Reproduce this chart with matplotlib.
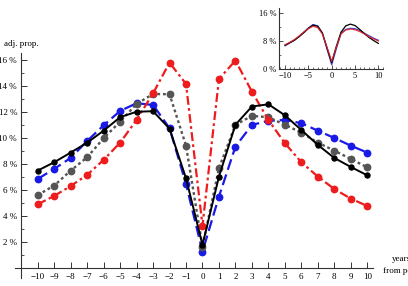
import matplotlib
matplotlib.use("Agg")
import matplotlib.pyplot as plt
from matplotlib.ticker import MultipleLocator, FuncFormatter

plt.rcParams['font.family'] = ['Liberation Serif', 'DejaVu Serif']

years = list(range(-10, 11))

black = [7.49, 8.13, 8.87, 9.63, 10.55, 11.58, 12.0, 12.04, 10.7, 6.9, 1.8,
         7.03, 11.0, 12.4, 12.57, 11.73, 10.6, 9.46, 8.46, 7.77, 7.13]
blue = [6.85, 7.62, 8.46, 9.76, 10.96, 12.06, 12.65, 12.52, 10.74, 6.47, 1.28,
        5.5, 9.33, 10.99, 11.3, 11.37, 11.12, 10.55, 9.99, 9.4, 8.87]
gray = [5.62, 6.34, 7.49, 8.51, 9.97, 11.24, 12.6, 13.36, 13.34, 9.4, 1.66,
        7.67, 11.0, 11.68, 11.58, 11.0, 10.4, 9.63, 9.02, 8.38, 7.74]
red = [4.91, 5.55, 6.31, 7.16, 8.31, 9.63, 11.37, 13.41, 15.76, 14.13, 3.27,
       14.51, 15.92, 13.54, 11.37, 9.59, 8.13, 7.03, 6.08, 5.34, 4.78]

inset_black = [6.8, 7.5, 8.2, 9.2, 10.3, 11.6, 12.5, 12.2, 10.3, 6.0, 1.8,
               6.5, 10.5, 12.3, 12.8, 12.4, 11.3, 10.1, 9.0, 8.1, 7.3]
inset_red = [6.9, 7.6, 8.4, 9.4, 10.5, 11.5, 12.2, 11.8, 10.0, 6.2, 2.2,
             6.3, 10.0, 11.1, 11.4, 11.2, 10.7, 10.0, 9.2, 8.6, 8.0]
inset_blue = [6.6, 7.4, 8.2, 9.3, 10.5, 11.7, 12.7, 12.3, 10.2, 5.6, 1.2,
              5.8, 10.2, 11.3, 11.6, 11.5, 11.0, 10.2, 9.5, 8.8, 8.2]

main_yticks = [2, 4, 6, 8, 10, 12, 14, 16]
inset_yticks = [0, 8, 16]
inset_xticks = [-10, -5, 0, 5, 10]

W, H = 408, 286
fig = plt.figure(figsize=(W / 100, H / 100), dpi=100)

def minus(v):
    return f"{int(v)}".replace('-', '\u2212')

# ---------- main axes ----------
ax = fig.add_axes([15 / W, (H - 278) / H, (373 - 15) / W, (278 - 53) / H])
ax.set_xlim(-11.38, 10.35)
ax.set_ylim(-0.74, 16.5)
for s in ['top', 'right']:
    ax.spines[s].set_visible(False)
ax.spines['left'].set_position(('data', -11.0))
ax.spines['bottom'].set_position(('data', 0))
for s in ['left', 'bottom']:
    ax.spines[s].set_color('#333333')
    ax.spines[s].set_linewidth(0.8)

ax.set_xticks(years)
ax.xaxis.set_major_formatter(FuncFormatter(lambda v, p: minus(v)))
ax.set_yticks(main_yticks)
ax.yaxis.set_minor_locator(MultipleLocator(1))
ax.yaxis.set_major_formatter(FuncFormatter(lambda v, p: f"{int(v)} %"))
ax.tick_params(axis='both', which='major', direction='in', length=4, width=0.7,
               labelsize=6.5, color='#333333', pad=3)
ax.tick_params(axis='y', which='minor', direction='in', length=2.3, width=0.6, color='#333333')

ms_big = 4.6
ax.plot(years, blue, color='#1a1ae6', ls=(0, (5, 2.2)), lw=1.6, marker='o', ms=ms_big, zorder=3)
ax.plot(years, gray, color='#555555', ls=(0, (1.2, 1.2)), lw=1.7, marker='o', ms=ms_big, zorder=3)
ax.plot(years, red, color='#ee1c1c', ls=(0, (4, 1.5, 1.2, 1.5)), lw=1.6, marker='o', ms=ms_big, zorder=3)
ax.plot(years, black, color='black', ls='-', lw=1.4, marker='o', ms=3.6, zorder=4)

fig.text(21 / W, 1 - 44 / H, 'adj. prop.', ha='center', va='center', fontsize=6.5)
fig.text(383 / W, 1 - 265 / H, 'years\nfrom peak', ha='left', va='center',
         fontsize=6.5, multialignment='center', linespacing=1.6)

# ---------- inset ----------
ia = fig.add_axes([279 / W, (H - 69) / H, (383 - 279) / W, (69 - 8) / H])
ia.set_xlim(-11.3, 11.0)
ia.set_ylim(0, 17.4)
for s in ['top', 'right']:
    ia.spines[s].set_visible(False)
for s in ['left', 'bottom']:
    ia.spines[s].set_color('#333333')
    ia.spines[s].set_linewidth(0.8)
ia.set_xticks(inset_xticks)
ia.xaxis.set_major_formatter(FuncFormatter(lambda v, p: minus(v)))
ia.xaxis.set_minor_locator(MultipleLocator(1))
ia.set_yticks(inset_yticks)
ia.yaxis.set_minor_locator(MultipleLocator(4))
ia.yaxis.set_major_formatter(FuncFormatter(lambda v, p: f"{int(v)} %"))
ia.tick_params(axis='both', which='major', direction='in', length=3, width=0.6,
               labelsize=6, color='#333333', pad=2)
ia.tick_params(axis='both', which='minor', direction='in', length=1.6, width=0.5, color='#333333')
ia.plot(years, inset_blue, color='#3333cc', lw=0.9, alpha=0.9)
ia.plot(years, inset_black, color='black', lw=0.9)
ia.plot(years, inset_red, color='#dd2222', lw=0.9, alpha=0.9)

fig.savefig('out.png', dpi=100)
